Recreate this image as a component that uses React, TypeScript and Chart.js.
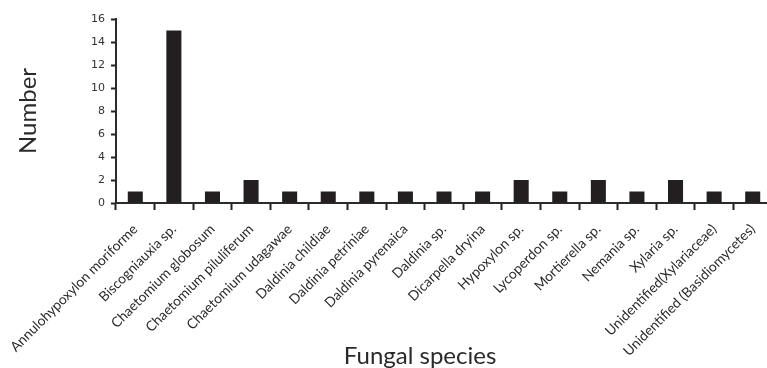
import React, { useEffect, useRef } from "react";
import { Chart, registerables } from "chart.js";

Chart.register(...registerables);

const categories: string[] = [
  "Annulohypoxylon moriforme",
  "Biscogniauxia sp.",
  "Chaetomium globosum",
  "Chaetomium piluliferum",
  "Chaetomium udagawae",
  "Daldinia childiae",
  "Daldinia petriniae",
  "Daldinia pyrenaica",
  "Daldinia sp.",
  "Dicarpella dryina",
  "Hypoxylon sp.",
  "Lycoperdon sp.",
  "Mortierella sp.",
  "Nemania sp.",
  "Xylaria sp.",
  "Unidentified(Xylariaceae)",
  "Unidentified (Basidiomycetes)",
];

const counts: number[] = [1, 15, 1, 2, 1, 1, 1, 1, 1, 1, 2, 1, 2, 1, 2, 1, 1];

const yTicks: number[] = [0, 2, 4, 6, 8, 10, 12, 14, 16];

const yTitle = "Number";
const xTitle = "Fungal species";

const CANVAS_W = 772;
const CANVAS_H = 368;

const xTitlePlugin = {
  id: "xTitlePlugin",
  afterDraw(chart: any) {
    const { ctx } = chart;
    const xs = chart.scales.x;
    ctx.save();
    ctx.font = "24px Lato";
    ctx.fillStyle = "#2a2a2a";
    ctx.textAlign = "center";
    ctx.textBaseline = "alphabetic";
    ctx.fillText(xTitle, xs.getPixelForValue(7.38), 364);
    ctx.restore();
  },
};

export default function App() {
  const ref = useRef<HTMLCanvasElement | null>(null);

  useEffect(() => {
    if (!ref.current) return;
    const chart = new Chart(ref.current, {
      type: "bar",
      data: {
        labels: categories,
        datasets: [
          {
            data: counts,
            backgroundColor: "#231f20",
            borderWidth: 0,
            barPercentage: 0.39,
            categoryPercentage: 1,
          },
        ],
      },
      options: {
        responsive: false,
        animation: false,
        devicePixelRatio: 1,
        layout: { padding: { top: 19, left: 0, right: 0, bottom: 0 } },
        plugins: {
          legend: { display: false },
          tooltip: { enabled: false },
          title: { display: false },
        },
        scales: {
          x: {
            offset: true,
            grid: {
              display: true,
              offset: true,
              drawOnChartArea: false,
              drawTicks: true,
              tickLength: 7,
              tickWidth: 2,
              color: "#222222",
              tickColor: "#222222",
            },
            border: { display: true, color: "#2b2b2b", width: 2 },
            ticks: {
              autoSkip: false,
              minRotation: 45,
              maxRotation: 45,
              padding: 11,
              color: "#2a2a2a",
              font: { family: "Lato", size: 13.8 },
            },
            afterFit(scale: any) {
              scale.height = CANVAS_H - 203;
              scale.paddingLeft = 0;
              scale.paddingRight = 0;
            },
          },
          y: {
            min: 0,
            max: 16,
            afterBuildTicks(scale: any) {
              scale.ticks = yTicks.map((v) => ({ value: v }));
            },
            grid: {
              display: true,
              drawOnChartArea: false,
              drawTicks: true,
              tickLength: 5,
              tickWidth: 2,
              color: "#222222",
              tickColor: "#222222",
            },
            border: { display: true, color: "#2b2b2b", width: 2 },
            ticks: {
              padding: 6,
              color: "#333333",
              font: { family: "DejaVu Sans", size: 11 },
            },
            title: {
              display: true,
              text: yTitle,
              color: "#2a2a2a",
              font: { family: "Lato", size: 24, lineHeight: 1.2 },
              padding: { top: 14, bottom: 0 },
            },
            afterFit(scale: any) {
              scale.width = 116;
            },
          },
        },
      },
      plugins: [xTitlePlugin],
    });
    return () => chart.destroy();
  }, []);

  return (
    <div
      style={{
        position: "absolute",
        left: 0,
        top: 0,
        width: 767,
        height: 368,
        overflow: "hidden",
        background: "#ffffff",
      }}
    >
      <canvas
        ref={ref}
        width={CANVAS_W}
        height={CANVAS_H}
        style={{ display: "block", width: CANVAS_W, height: CANVAS_H }}
      />
    </div>
  );
}
